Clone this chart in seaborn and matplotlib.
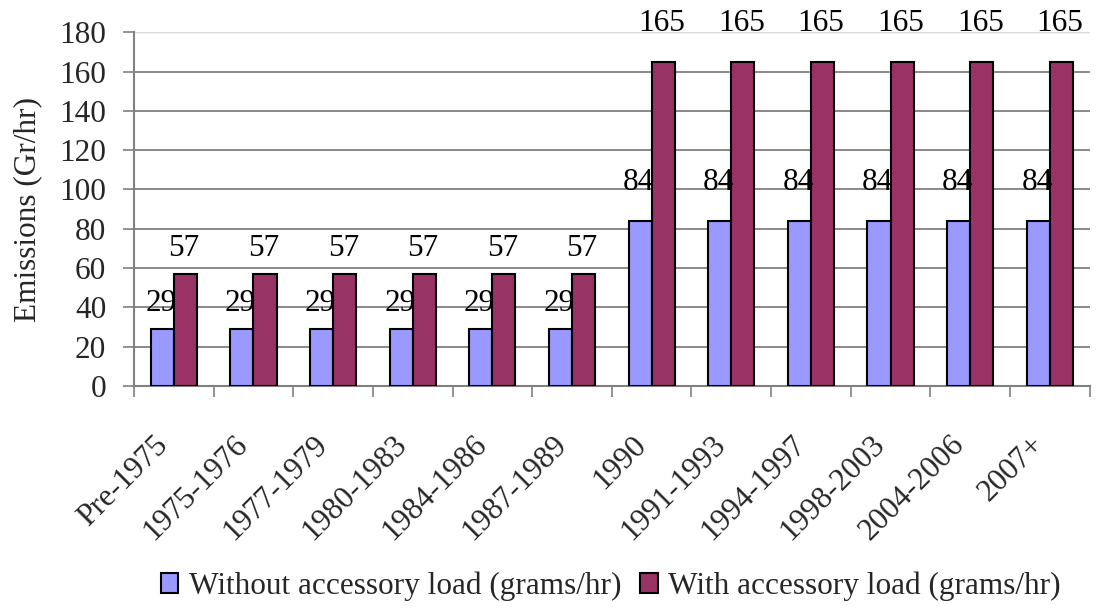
import pandas as pd
import matplotlib
matplotlib.use('Agg')
import matplotlib.pyplot as plt
import matplotlib.transforms as mtransforms
import seaborn as sns

# data
years = ['Pre-1975', '1975-1976', '1977-1979', '1980-1983', '1984-1986', '1987-1989',
         '1990', '1991-1993', '1994-1997', '1998-2003', '2004-2006', '2007+']
without_load = [29, 29, 29, 29, 29, 29, 84, 84, 84, 84, 84, 84]
with_load = [57, 57, 57, 57, 57, 57, 165, 165, 165, 165, 165, 165]
series = ['Without accessory load (grams/hr)', 'With accessory load (grams/hr)']

df = pd.DataFrame({
    'year': years * 2,
    'value': without_load + with_load,
    'series': [series[0]] * len(years) + [series[1]] * len(years),
})

sns.set_style("white")
plt.rcParams['font.family'] = ['Liberation Serif', 'DejaVu Serif']
fs = 22.5

fig = plt.figure(figsize=(11.01, 6.08), dpi=100)
ax = fig.add_axes([0.1217, 0.365, 0.868, 0.582])

b = sns.barplot(data=df, x='year', y='value', hue='series', order=years,
                palette=['#9999FF', '#993366'], saturation=1, width=0.58, gap=0,
                edgecolor='black', linewidth=1.5, ax=ax, zorder=3)

# value labels above bars (Excel puts the bigger ones a bit higher)
for cont in ax.containers:
    for rect, v in zip(cont, cont.datavalues):
        ax.annotate(f'{v:.0f}', (rect.get_x() + rect.get_width() / 2, v),
                    xytext=(-1, 17 if v > 80 else 8), textcoords='offset points',
                    ha='center', va='bottom', fontsize=fs, color='black')

ax.set_ylim(0, 180)
ax.set_xlim(-0.5, len(years) - 0.5)
ax.set_yticks(range(0, 181, 20))
ax.yaxis.grid(True, color='#808080', linewidth=1.3, zorder=0)
ax.get_ygridlines()[-1].set_color('#d9d9d9')
ax.get_ygridlines()[-1].set_linewidth(1)
ax.set_axisbelow(True)
for s in ['top', 'right']:
    ax.spines[s].set_visible(False)
for s in ['left', 'bottom']:
    ax.spines[s].set_color('#808080')
    ax.spines[s].set_linewidth(1.5)

ax.tick_params(axis='y', which='major', left=True, length=8, width=1.2,
               color='#808080', labelsize=fs, pad=12)
ax.set_xticks([i - 0.5 for i in range(len(years) + 1)], minor=True)
ax.tick_params(axis='x', which='minor', bottom=True, length=8, width=1.2, color='#808080')
ax.tick_params(axis='x', which='major', bottom=False, length=0, pad=0)
ax.set_xticklabels(years, rotation=45, ha='right', va='top', rotation_mode='anchor', fontsize=fs)
# push the slanted labels down and left like the original
shift = mtransforms.ScaledTranslation(-0.2, -0.44, fig.dpi_scale_trans)
for lab in ax.get_xticklabels():
    lab.set_transform(lab.get_transform() + shift)

ax.set_xlabel('')
ax.set_ylabel('Emissions (Gr/hr)', fontsize=fs, labelpad=12)

fig.legend(handles=ax.get_legend_handles_labels()[0], labels=series,
           loc='center', bbox_to_anchor=(0.555, 0.036), ncol=2, frameon=False,
           fontsize=fs, handlelength=0.55, handleheight=0.6, handletextpad=0.35,
           columnspacing=0.6)
ax.get_legend().remove()

fig.savefig('out.png', dpi=100)
